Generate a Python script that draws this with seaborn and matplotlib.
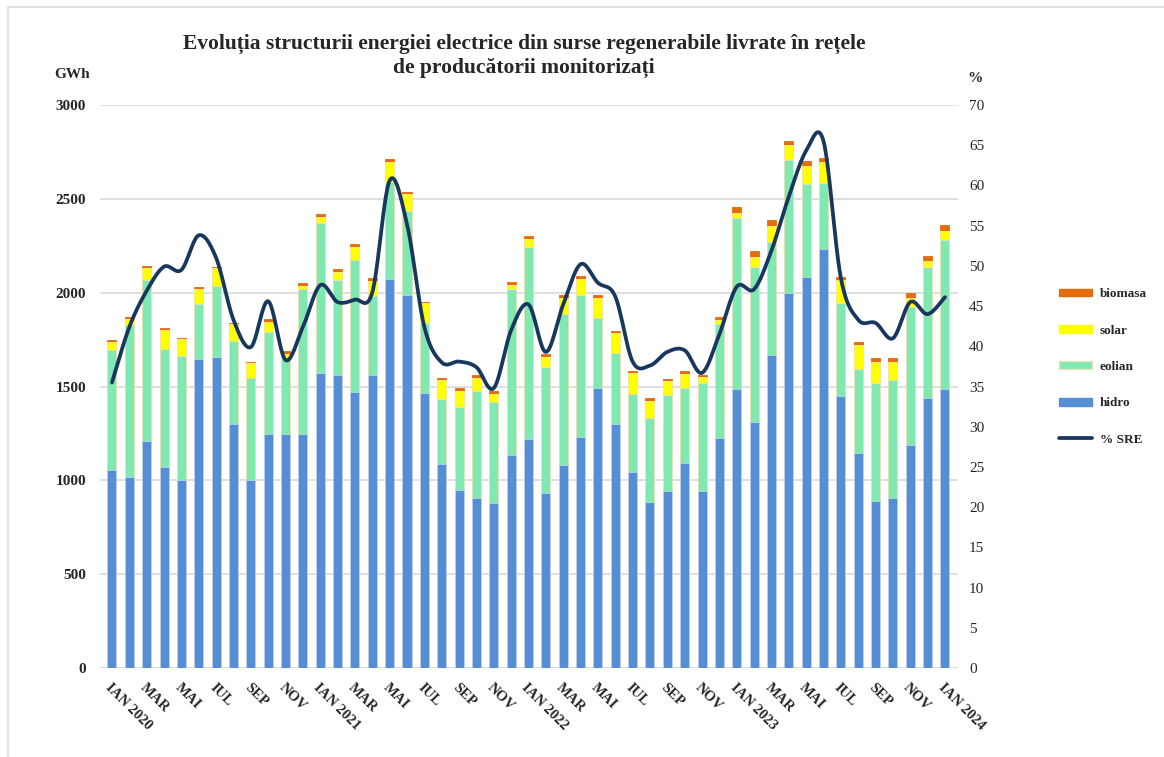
import numpy as np
import pandas as pd
import matplotlib
matplotlib.use("Agg")
import matplotlib.pyplot as plt
from matplotlib.patches import Patch, Rectangle
from matplotlib.lines import Line2D
import seaborn as sns

# ---------------- data ----------------
months = [f"{y}-{m:02d}" for y in range(2020, 2024) for m in range(1, 13)] + ["2024-01"]
hidro = [1057, 1020, 1212, 1073, 1004, 1647, 1659, 1302, 1000, 1249, 1245, 1245,
         1574, 1559, 1473, 1559, 2071, 1986, 1465, 1086, 947, 904, 878, 1137,
         1218, 931, 1082, 1229, 1494, 1300, 1045, 886, 943, 1092, 943, 1224,
         1486, 1310, 1669, 1996, 2086, 2233, 1449, 1143, 888, 904, 1188, 1439,
         1486]
eolian = [637, 810, 853, 629, 659, 290, 378, 439, 547, 543, 402, 775,
          799, 506, 700, 421, 521, 447, 372, 347, 445, 574, 540, 881,
          1027, 671, 806, 757, 369, 380, 414, 445, 510, 398, 573, 607,
          910, 827, 602, 710, 492, 351, 496, 449, 630, 631, 736, 696,
          792]
solar = [41, 32, 66, 98, 88, 83, 92, 92, 80, 53, 26, 17,
         29, 45, 72, 81, 102, 94, 106, 102, 86, 65, 43, 23,
         41, 57, 81, 85, 110, 106, 112, 93, 74, 75, 35, 26,
         28, 53, 86, 82, 98, 114, 124, 130, 115, 94, 49, 36,
         53]
biomasa = [12, 11, 12, 10, 8, 9, 6, 5, 3, 14, 15, 14,
           18, 17, 16, 17, 18, 10, 8, 10, 12, 18, 17, 16,
           16, 14, 21, 17, 15, 12, 11, 15, 14, 17, 10, 14,
           33, 30, 29, 22, 24, 18, 17, 17, 20, 24, 23, 25,
           28]
pct_sre = [35.5, 42.4, 46.9, 49.9, 49.5, 53.8, 51.0, 43.3, 39.9, 45.6, 38.3, 42.4,
           47.6, 45.5, 45.8, 46.7, 60.6, 55.2, 42.4, 38.0, 38.1, 37.4, 34.8, 42.0,
           45.2, 39.3, 45.2, 50.2, 47.9, 46.2, 38.1, 37.6, 39.3, 39.5, 36.7, 41.5,
           47.4, 47.1, 51.9, 58.6, 64.3, 65.5, 48.5, 43.3, 42.9, 41.0, 45.5, 44.0,
           46.1]
month_names = ["IAN", "FEB", "MAR", "APR", "MAI", "IUN", "IUL", "AUG", "SEP", "OCT", "NOV", "DEC"]
tick_labels = []
for i, k in enumerate(months):
    y, m = k.split("-")
    m = int(m)
    if m % 2 == 0:
        tick_labels.append("")
    elif m == 1:
        tick_labels.append(f"IAN {y}")
    else:
        tick_labels.append(month_names[m - 1])

df = pd.DataFrame({"luna": months, "hidro": hidro, "eolian": eolian,
                   "solar": solar, "biomasa": biomasa, "sre": pct_sre})
df["c_hidro"] = df["hidro"]
df["c_eolian"] = df["c_hidro"] + df["eolian"]
df["c_solar"] = df["c_eolian"] + df["solar"]
df["c_biomasa"] = df["c_solar"] + df["biomasa"]

C_HIDRO = "#558ED5"
C_EOL = "#7FE9B1"
C_SOL = "#FFFF00"
C_BIO = "#E46C0A"
C_LINE = "#17375E"

# ---------------- figure ----------------
sns.set_theme(style="white")
plt.rcParams["font.family"] = ["Liberation Serif", "DejaVu Serif"]

fig = plt.figure(figsize=(11.64, 7.57), dpi=100)
ax = fig.add_axes([100 / 1164, 1 - 668 / 757, 858 / 1164, 563 / 757])

# frame (partial border like the reference)
fig.add_artist(Rectangle((8 / 1164, -0.1), 1.2, (757 - 7) / 757 + 0.1,
                         transform=fig.transFigure, fill=False,
                         edgecolor="#D9D9D9", linewidth=1.2))

layers = [("c_biomasa", C_BIO, "#E46C0A"), ("c_solar", C_SOL, "#F2F2A0"),
          ("c_eolian", C_EOL, "#E6E2C0"), ("c_hidro", C_HIDRO, "#BFD3EE")]
for col, color, edge in layers:
    sns.barplot(data=df, x="luna", y=col, color=color, width=0.52,
                saturation=1, edgecolor=edge, linewidth=0.6, ax=ax, zorder=2)

ax.set_xlim(-0.69, len(months) - 1 + 0.75)
ax.set_ylim(0, 3000)
ax.set_yticks(np.arange(0, 3001, 500))
ax.set_yticklabels([str(v) for v in range(0, 3001, 500)], fontweight="bold", fontsize=11)
ax.grid(axis="y", color="#D9D9D9", linewidth=1.2, zorder=0)
ax.set_axisbelow(True)
for s in ax.spines.values():
    s.set_visible(False)
ax.axhline(0, color="#D9D9D9", linewidth=1.2, zorder=1)
ax.set_xlabel("")
ax.set_ylabel("")
ax.set_xticks(range(len(months)))
ax.set_xticklabels(tick_labels, rotation=-45, ha="left", va="top",
                   rotation_mode="anchor", fontweight="bold", fontsize=10.5)
ax.tick_params(axis="y", length=0, pad=10)
ax.tick_params(axis="x", length=0, pad=9)

# secondary axis: smoothed % SRE line (Bezier between data points, like Excel smoothing)
ax2 = ax.twinx()
ax2.set_ylim(0, 70)
ax2.set_yticks(np.arange(0, 71, 5))
ax2.set_yticklabels([str(v) for v in range(0, 71, 5)], fontsize=11)
ax2.tick_params(axis="y", length=0, pad=8)
for s in ax2.spines.values():
    s.set_visible(False)
ax2.grid(False)

x = np.arange(len(pct_sre), dtype=float)
y = np.array(pct_sre, dtype=float)
xs, ys = [], []
t = np.linspace(0, 1, 25)
for i in range(len(x) - 1):
    p0 = np.array([x[max(i - 1, 0)], y[max(i - 1, 0)]])
    p1 = np.array([x[i], y[i]])
    p2 = np.array([x[i + 1], y[i + 1]])
    p3 = np.array([x[min(i + 2, len(x) - 1)], y[min(i + 2, len(x) - 1)]])
    c1 = p1 + (p2 - p0) / 6
    c2 = p2 - (p3 - p1) / 6
    b = ((1 - t) ** 3)[:, None] * p1 + (3 * (1 - t) ** 2 * t)[:, None] * c1 + \
        (3 * (1 - t) * t ** 2)[:, None] * c2 + (t ** 3)[:, None] * p2
    xs.extend(b[:, 0])
    ys.extend(b[:, 1])
ax2.plot(xs, ys, color=C_LINE, linewidth=2.7, solid_capstyle="round", zorder=5)

# titles and axis units
fig.text(524 / 1164, 1 - 44 / 757,
         "Evoluția structurii energiei electrice din surse regenerabile livrate în rețele",
         ha="center", va="center", fontsize=15.5, fontweight="bold")
fig.text(524 / 1164, 1 - 68 / 757, "de producătorii monitorizați",
         ha="center", va="center", fontsize=15.5, fontweight="bold")
fig.text(72 / 1164, 1 - 75 / 757, "GWh", ha="center", va="center",
         fontsize=11, fontweight="bold")
fig.text(975 / 1164, 1 - 78 / 757, "%", ha="center", va="center",
         fontsize=11, fontweight="bold")

handles = [Patch(facecolor=C_BIO, edgecolor=C_BIO), Patch(facecolor=C_SOL, edgecolor=C_SOL),
           Patch(facecolor=C_EOL, edgecolor="#E6E2C0"), Patch(facecolor=C_HIDRO, edgecolor=C_HIDRO),
           Line2D([0], [0], color=C_LINE, linewidth=2.7)]
labels = ["biomasa", "solar", "eolian", "hidro", "% SRE"]
leg = fig.legend(handles, labels, loc="center left",
                 bbox_to_anchor=(1052 / 1164, 1 - 367 / 757), frameon=False,
                 prop={"weight": "bold", "size": 9.5}, labelspacing=1.85,
                 handlelength=2.5, handleheight=0.55, handletextpad=0.6, borderpad=0)

fig.savefig("out.png", dpi=100, facecolor="white")
